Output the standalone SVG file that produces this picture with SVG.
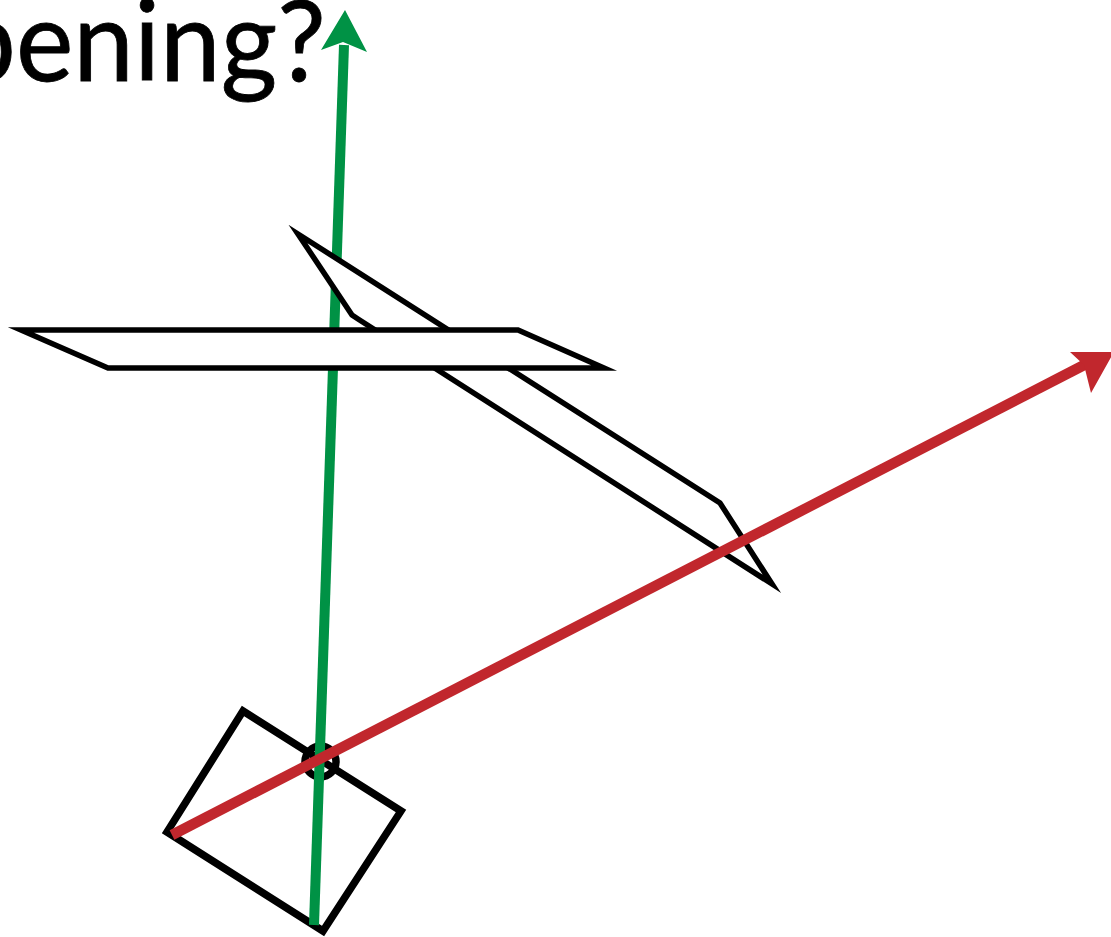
<svg xmlns="http://www.w3.org/2000/svg" width="1111" height="937" viewBox="0 0 1111 937">
<style>
.shape{fill:#fff;stroke:#000;stroke-width:5.500;stroke-linejoin:miter;stroke-miterlimit:20}
.thick{fill:none;stroke:#000;stroke-width:7.500;stroke-miterlimit:20}
.label{font-family:Lato,"Open Sans","Liberation Sans",sans-serif;font-size:112px;fill:#000;stroke:#000;stroke-width:0.800}
</style>
<rect width="1111" height="937" fill="#fff"/>
<g id="title"><text class="label" x="-45" y="81" textLength="371" lengthAdjust="spacingAndGlyphs">pening?</text></g>
<g id="square"><polygon class="thick" points="243,711 401,811 323,931 167,832"/></g>
<g id="pivot"><circle class="thick" cx="320.500" cy="761.500" r="15.500"/></g>
<g id="connectors-green">
<path d="M314,925 L344,45" fill="none" stroke="#009245" stroke-width="10"/>
<polygon points="345,10 367,52 343,42 321,50" fill="#009245"/>
</g>
<g id="slab"><polygon class="shape" points="298,234 720,503 772,584 358,319 352,315"/></g>
<g id="plate"><polygon class="shape" points="21,330 518,330 604,368 108,368"/></g>
<g id="connectors-red">
<path d="M172,835 L1088,363" fill="none" stroke="#C1272D" stroke-width="10.500"/>
<polygon points="1114,352 1091,393 1084,365 1070,352" fill="#C1272D"/>
</g>
</svg>
